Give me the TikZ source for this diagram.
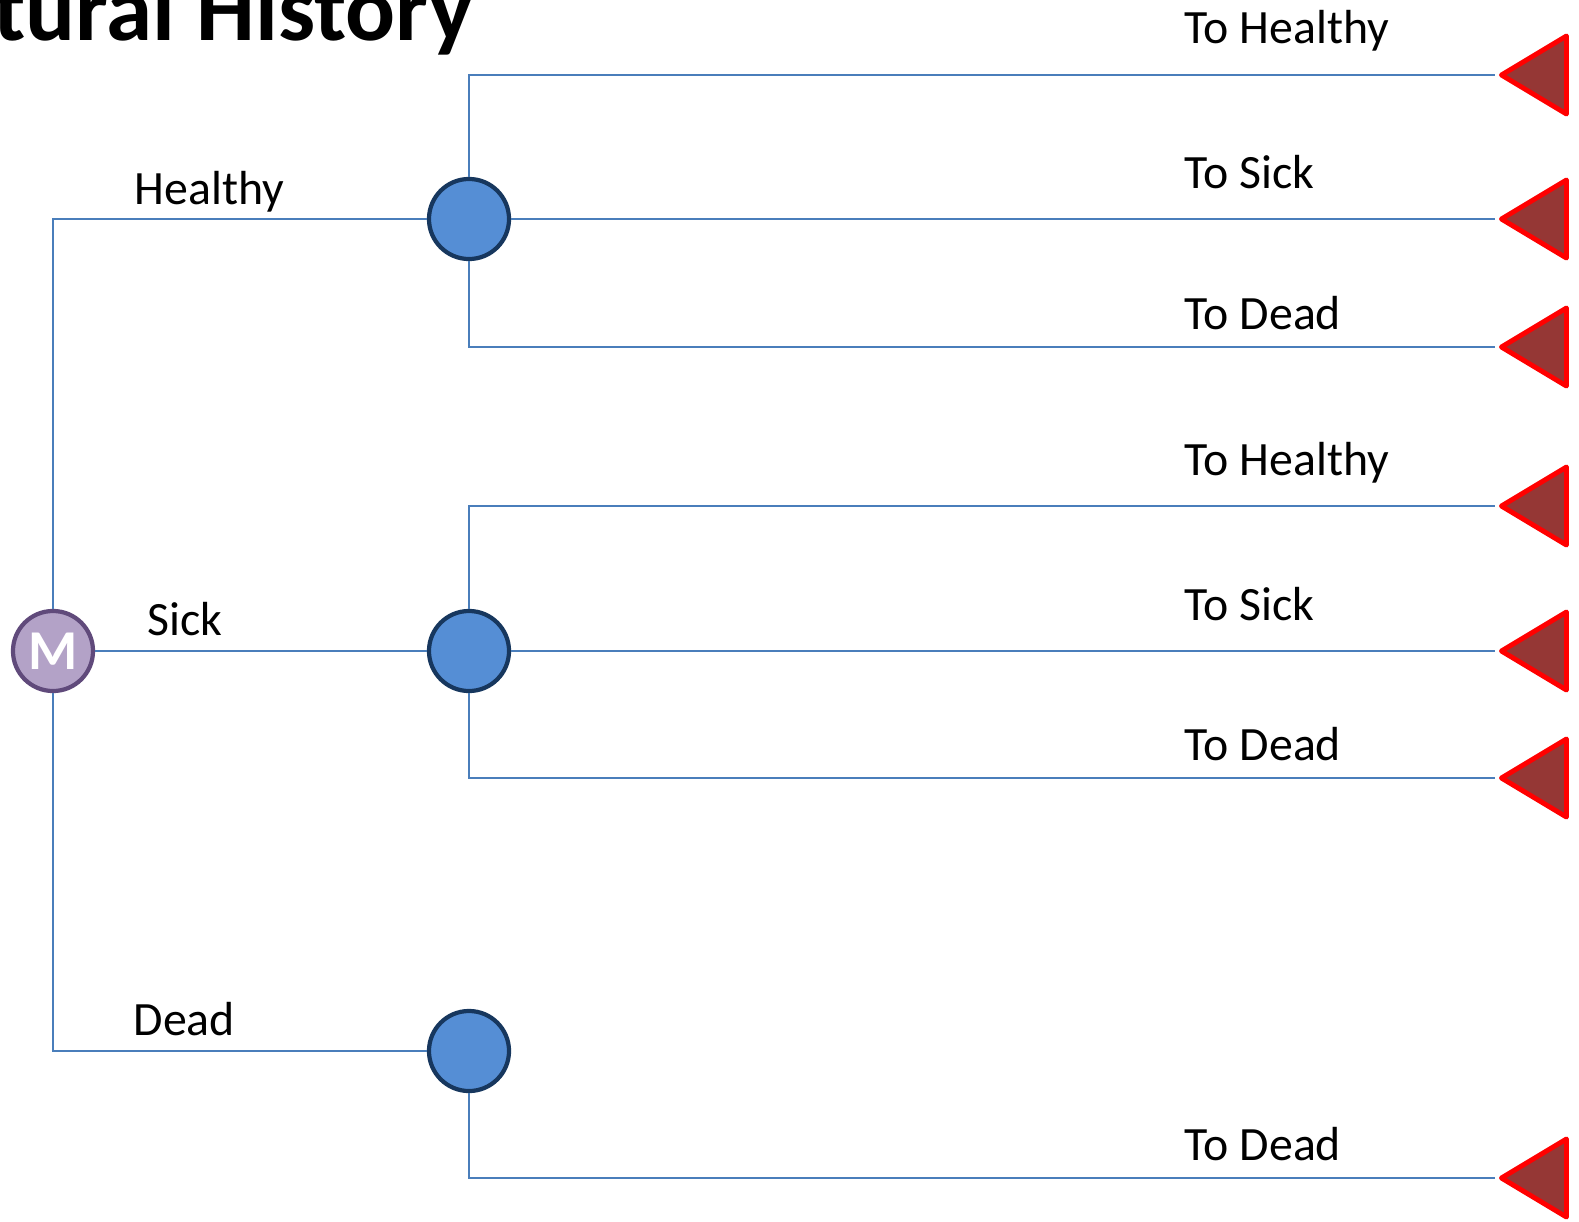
\documentclass[tikz,border=0pt]{standalone}
\usepackage{fontspec}
\setmainfont{Carlito}
\usepackage{xcolor}
\definecolor{nhline}{HTML}{4A7EBB}
\definecolor{nhchance}{HTML}{558ED5}
\definecolor{nhchancedraw}{HTML}{17375E}
\definecolor{nhmarkov}{HTML}{B3A2C7}
\definecolor{nhmarkovdraw}{HTML}{604A7B}
\definecolor{nhterm}{HTML}{953735}
\usetikzlibrary{positioning,shapes.geometric}

\begin{document}
\begin{tikzpicture}[x=0.01cm, y=-0.01cm,
  mnode/.style={circle, draw=nhmarkovdraw, fill=nhmarkov, line width=1.2pt,
               minimum size=0.8cm, inner sep=0pt, text=white,
               font=\fontsize{16pt}{18pt}\selectfont\bfseries},
  cnode/.style={circle, draw=nhchancedraw, fill=nhchance, line width=1.2pt,
               minimum size=0.8cm, inner sep=0pt},
  tnode/.style={isosceles triangle, isosceles triangle stretches, rotate=180,
               draw=red, fill=nhterm, line width=1.4pt, line join=round,
               minimum height=0.65cm, minimum width=0.78cm, inner sep=0pt,
               anchor=apex},
  lbl/.style={anchor=base west, inner sep=0pt, font=\fontsize{13.6pt}{16pt}\selectfont},
  ttl/.style={anchor=base east, inner sep=0pt, font=\fontsize{26.5pt}{30pt}\selectfont\bfseries},
  link/.style={draw=nhline, line width=0.5pt}
]
\useasboundingbox (0,0) rectangle (1579,1221);
\clip (0,0) rectangle (1579,1221);

% Title
\node[ttl] (title) at (474,40) {Natural History};

% Markov node and chance nodes
\node[mnode] (m)   at (53,651)   {M};
\node[cnode] (hlt) at (469,219)  {};
\node[cnode] (sck) at (469,651)  {};
\node[cnode] (ded) at (469,1051) {};

% Terminal nodes
\node[tnode] (hh) at (1495,75)   {};
\node[tnode] (hs) at (1495,219)  {};
\node[tnode] (hd) at (1495,347)  {};
\node[tnode] (sh) at (1495,506)  {};
\node[tnode] (ss) at (1495,651)  {};
\node[tnode] (sd) at (1495,778)  {};
\node[tnode] (dd) at (1495,1178) {};

% Branches
\draw[link] (m.north) |- (hlt.west);
\draw[link] (m.east)  -- (sck.west);
\draw[link] (m.south) |- (ded.west);

\draw[link] (hlt.north) |- (hh.apex);
\draw[link] (hlt.east)  -- (hs.apex);
\draw[link] (hlt.south) |- (hd.apex);
\draw[link] (sck.north) |- (sh.apex);
\draw[link] (sck.east)  -- (ss.apex);
\draw[link] (sck.south) |- (sd.apex);
\draw[link] (ded.south) |- (dd.apex);

% Labels
\node[lbl] (lh) at (134,204)  {Healthy};
\node[lbl] (ls) at (147,635)  {Sick};
\node[lbl] (ld) at (133,1035) {Dead};

\node[lbl] (lhh) at (1184,44)   {To Healthy};
\node[lbl] (lhs) at (1184,188)  {To Sick};
\node[lbl] (lhd) at (1184,329)  {To Dead};
\node[lbl] (lsh) at (1184,475)  {To Healthy};
\node[lbl] (lss) at (1184,620)  {To Sick};
\node[lbl] (lsd) at (1184,760)  {To Dead};
\node[lbl] (ldd) at (1184,1160) {To Dead};
\end{tikzpicture}
\end{document}
